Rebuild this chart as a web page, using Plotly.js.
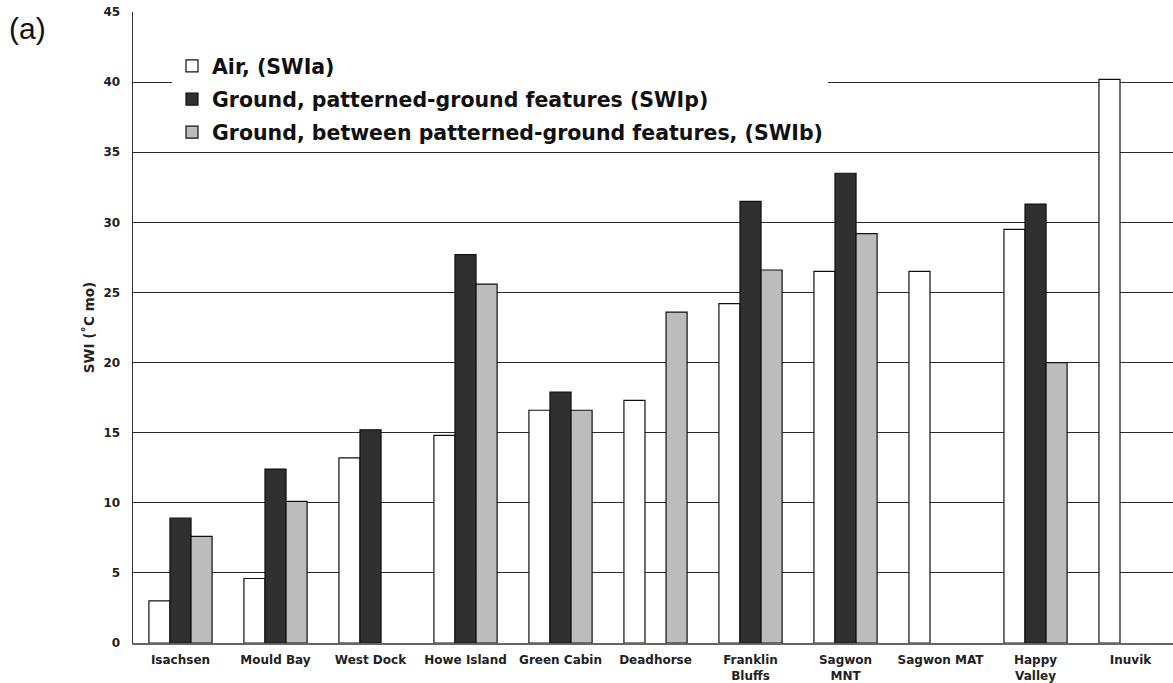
<!DOCTYPE html>
<html>
<head>
<meta charset="utf-8">
<script src="https://cdn.plot.ly/plotly-3.0.1.min.js"></script>
<style>html,body{margin:0;padding:0;background:#fff;}#chart{width:1173px;height:683px;}</style>
</head>
<body>
<div id="chart"></div>
<script>
const categories = ["Isachsen", "Mould Bay", "West Dock", "Howe Island", "Green Cabin", "Deadhorse", "Franklin<br>Bluffs", "Sagwon<br>MNT", "Sagwon MAT", "Happy<br>Valley", "Inuvik"];
const swiAir = [3.0, 4.6, 13.2, 14.8, 16.6, 17.3, 24.2, 26.5, 26.5, 29.5, 40.2];
const swiPatterned = [8.9, 12.4, 15.2, 27.7, 17.9, null, 31.5, 33.5, null, 31.3, null];
const swiBetween = [7.6, 10.1, null, 25.6, 16.6, 23.6, 26.6, 29.2, null, 20.0, null];
const seriesNames = ["Air, (SWIa)", "Ground, patterned-ground features (SWIp)", "Ground, between patterned-ground features, (SWIb)"];
const yTicks = [0, 5, 10, 15, 20, 25, 30, 35, 40, 45];

const bold = {family: "DejaVu Sans, Verdana, sans-serif", weight: "bold", color: "#222"};
function bar(vals, name, color, grp) {
  return {
    type: "bar", x: categories, y: vals, name: name, legendgroup: grp,
    marker: {color: color, line: {color: "#111", width: 1.2}},
    hoverinfo: "y"
  };
}
const data = [
  bar(swiAir, seriesNames[0], "#ffffff", "a"),
  bar(swiPatterned, seriesNames[1], "#303030", "p"),
  bar(swiBetween, seriesNames[2], "#bcbcbc", "b")
];
const layout = {
  width: 1173, height: 683,
  margin: {l: 133, r: 0, t: 12, b: 40},
  paper_bgcolor: "#fff", plot_bgcolor: "#fff",
  barmode: "group", bargap: 0.335, bargroupgap: 0,
  showlegend: true,
  legend: {
    x: 0.0375, y: 0.946, xanchor: "left", yanchor: "top",
    bgcolor: "#ffffff", borderwidth: 0,
    font: Object.assign({}, bold, {size: 20.5, color: "#111"}),
    tracegroupgap: 3.5, traceorder: "grouped"
  },
  xaxis: {
    type: "category", range: [-0.5, 10.447],
    showgrid: false, zeroline: false,
    showline: true, linecolor: "#666", linewidth: 2,
    ticks: "", ticklabelstandoff: 5,
    tickfont: Object.assign({}, bold, {size: 12}),
    fixedrange: true
  },
  yaxis: {
    range: [0, 45], tickvals: yTicks, ticktext: yTicks.map(String),
    showgrid: true, gridcolor: "#2a2a2a", gridwidth: 1,
    zeroline: false, showline: true, linecolor: "#333", linewidth: 1.5,
    ticks: "", ticklabelstandoff: 9,
    tickfont: Object.assign({}, bold, {size: 12}),
    title: {text: "SWI (˚C mo)", font: Object.assign({}, bold, {size: 13.5}), standoff: 5},
    fixedrange: true
  },
  annotations: [{
    text: "(a)", xref: "paper", yref: "paper", x: -0.121, y: 0.974,
    xanchor: "left", yanchor: "middle", showarrow: false,
    font: {family: "Liberation Sans, Arial, sans-serif", size: 30, color: "#111"}
  }]
};
Plotly.newPlot("chart", data, layout, {staticPlot: true});
</script>
</body>
</html>
